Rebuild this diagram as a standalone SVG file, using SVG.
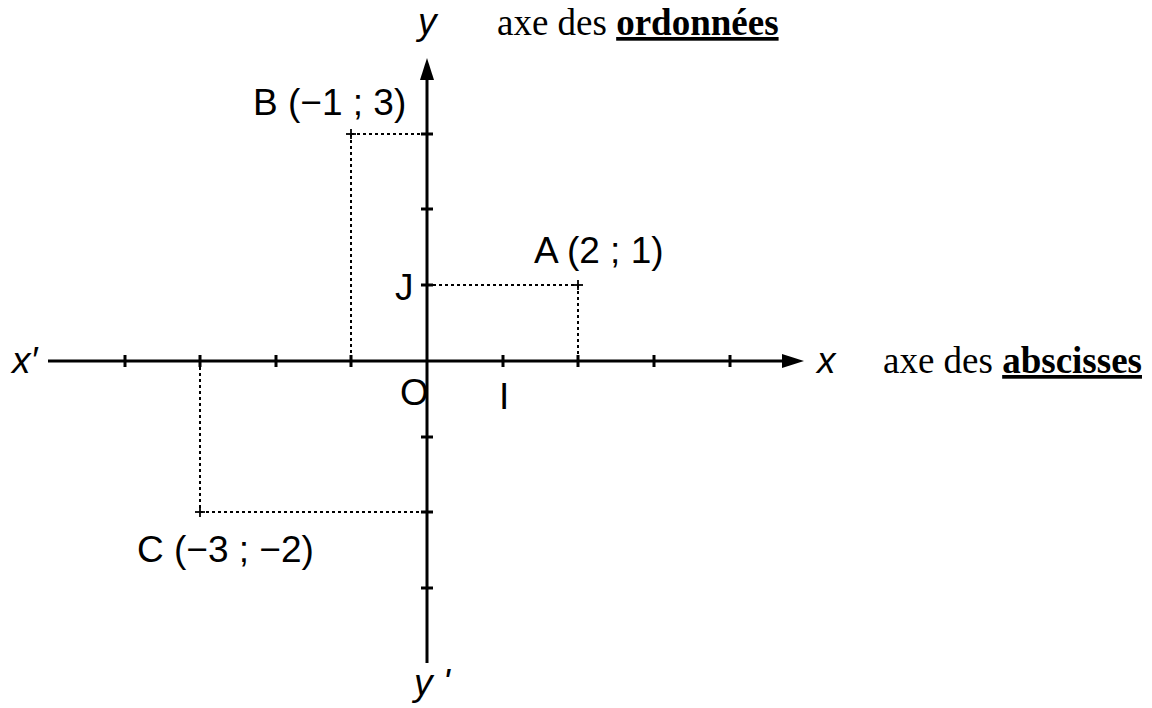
<svg xmlns="http://www.w3.org/2000/svg" width="1152" height="708" viewBox="0 0 1152 708">
<style>
.axis{stroke:#000;stroke-width:3;fill:none}
.tick{stroke:#000;stroke-width:3}
.dot{stroke:#000;stroke-width:2;stroke-dasharray:3 3;fill:none}
.pt{stroke:#000;stroke-width:1.8}
.s{font-family:"Liberation Sans",Arial,sans-serif;font-size:37px;fill:#000}
.i{font-style:italic}
.r{font-family:"Liberation Serif","Times New Roman",serif;font-size:37px;fill:#000}
.b{font-weight:bold;text-decoration:underline}
</style>
<rect width="1152" height="708" fill="#fff"/>
<g id="connectors">
<line class="dot" x1="351" y1="134" x2="427" y2="134"/>
<line class="dot" x1="351" y1="134" x2="351" y2="361"/>
<line class="dot" x1="427" y1="285" x2="578" y2="285"/>
<line class="dot" x1="578" y1="285" x2="578" y2="361"/>
<line class="dot" x1="200" y1="512" x2="427" y2="512"/>
<line class="dot" x1="200" y1="361" x2="200" y2="512"/>
</g>
<g id="x-axis">
<line class="axis" x1="48" y1="361" x2="784" y2="361"/>
<polygon points="804,361 782,354 782,368" fill="#000"/>
<g class="tick">
<line x1="125" y1="355" x2="125" y2="367"/>
<line x1="200" y1="355" x2="200" y2="367"/>
<line x1="276" y1="355" x2="276" y2="367"/>
<line x1="351" y1="355" x2="351" y2="367"/>
<line x1="503" y1="355" x2="503" y2="367"/>
<line x1="578" y1="355" x2="578" y2="367"/>
<line x1="654" y1="355" x2="654" y2="367"/>
<line x1="730" y1="355" x2="730" y2="367"/>
</g>
<text class="s i" x="12" y="373">x′</text>
<text class="s i" x="817" y="373">x</text>
<text class="r" x="883" y="373">axe des <tspan class="b">abscisses</tspan></text>
</g>
<g id="y-axis">
<line class="axis" x1="427" y1="663" x2="427" y2="78"/>
<polygon points="427,58 420,80 434,80" fill="#000"/>
<g class="tick">
<line x1="421" y1="134" x2="433" y2="134"/>
<line x1="421" y1="209" x2="433" y2="209"/>
<line x1="421" y1="285" x2="433" y2="285"/>
<line x1="421" y1="437" x2="433" y2="437"/>
<line x1="421" y1="512" x2="433" y2="512"/>
<line x1="421" y1="588" x2="433" y2="588"/>
</g>
<text class="s i" x="418" y="34">y</text>
<text class="r" x="497" y="35">axe des <tspan class="b">ordonnées</tspan></text>
<text class="s i" x="414" y="695">y '</text>
</g>
<g id="origin"><text class="s" x="400" y="405">O</text></g>
<g id="I"><text class="s" x="499" y="409">I</text></g>
<g id="J"><text class="s" x="395" y="300">J</text></g>
<g id="A">
<line class="pt" x1="573" y1="285" x2="583" y2="285"/><line class="pt" x1="578" y1="280" x2="578" y2="290"/>
<text class="s" x="534" y="263">A (2 ; 1)</text>
</g>
<g id="B">
<line class="pt" x1="346" y1="134" x2="356" y2="134"/><line class="pt" x1="351" y1="129" x2="351" y2="139"/>
<text class="s" x="253" y="115">B (−1 ; 3)</text>
</g>
<g id="C">
<line class="pt" x1="195" y1="512" x2="205" y2="512"/><line class="pt" x1="200" y1="507" x2="200" y2="517"/>
<text class="s" x="137" y="562">C (−3 ; −2)</text>
</g>
</svg>
